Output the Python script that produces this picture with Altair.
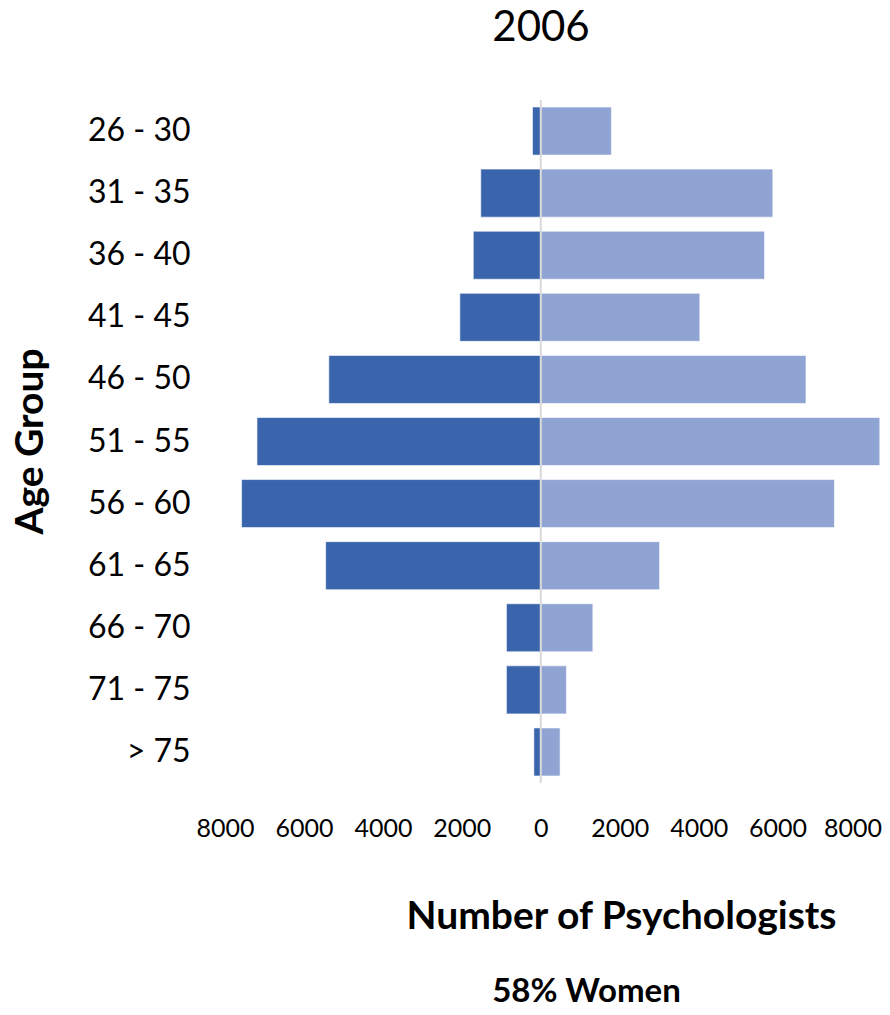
import altair as alt
import pandas as pd

# ---- data ----
age_groups = ["26 - 30", "31 - 35", "36 - 40", "41 - 45", "46 - 50", "51 - 55",
              "56 - 60", "61 - 65", "66 - 70", "71 - 75", "> 75"]
men = [210, 1520, 1710, 2050, 5370, 7190, 7580, 5450, 870, 870, 175]
women = [1790, 5880, 5670, 4030, 6720, 8590, 7440, 3010, 1320, 650, 490]
tick_values = [-8000, -6000, -4000, -2000, 0, 2000, 4000, 6000, 8000]
sexes = ["Men", "Women"]
colors = ["#3a64ac", "#90a4d4"]
title_text = "2006"
x_title = "Number of Psychologists"
y_title = "Age Group"
note_text = ["58% Women"]

rows = []
for g, m, w in zip(age_groups, men, women):
    rows.append({"age": g, "sex": "Men", "value": -m})
    rows.append({"age": g, "sex": "Women", "value": w})
df = pd.DataFrame(rows)

FONT = "Lato"

bars = alt.Chart(df).mark_bar(stroke="white", strokeWidth=1, strokeOpacity=0.6).encode(
    y=alt.Y(
        "age:N",
        sort=age_groups,
        scale=alt.Scale(paddingInner=0.226, paddingOuter=0.113),
        axis=alt.Axis(
            title=y_title, titleFont=FONT, titleFontSize=39, titleFontWeight="bold",
            titleColor="black", titleAngle=270, titleX=-183, titleY=341,
            titleAlign="center", titleBaseline="alphabetic",
            labelFont=FONT, labelFontSize=32, labelColor="black", labelPadding=35,
            ticks=False, tickSize=0, domain=False, grid=False,
        ),
    ),
    x=alt.X(
        "value:Q",
        scale=alt.Scale(domain=[-8000, 8620], nice=False),
        axis=alt.Axis(
            values=tick_values, labelExpr="format(abs(datum.value), 'd')",
            title=x_title, titleFont=FONT, titleFontSize=39, titleFontWeight="bold",
            titleColor="black", titleX=396, titleY=145, titleAlign="center",
            titleBaseline="alphabetic",
            labelFont=FONT, labelFontSize=25, labelColor="black", labelPadding=33,
            labelOffset={"condition": {"test": "datum.value == 8000", "value": -4}, "value": 0},
            ticks=False, tickSize=0, domain=False, grid=False,
            labelOverlap=False, labelFlush=False,
        ),
    ),
    color=alt.Color("sex:N", scale=alt.Scale(domain=sexes, range=colors), legend=None),
)

zero_rule = alt.Chart(pd.DataFrame({"v": [0]})).mark_rule(
    color="#d9d9d9", strokeWidth=2
).encode(x="v:Q")

note = alt.Chart(pd.DataFrame({"t": note_text})).mark_text(
    font=FONT, fontSize=33, fontWeight="bold", color="black",
    align="center", baseline="alphabetic",
).encode(text="t:N", x=alt.value(361.5), y=alt.value(902))

chart = alt.layer(bars, zero_rule, note).properties(
    width=656,
    height=683,
    title=alt.TitleParams(
        title_text, font=FONT, fontSize=42, fontWeight="normal", color="black",
        anchor="middle", frame="group", dx=-12, offset=49,
    ),
    padding={"left": 217, "top": 92, "right": 1, "bottom": 220},
    autosize=alt.AutoSizeParams(type="none"),
).configure_view(stroke=None)

chart.save("out.html", embed_options={"renderer": "svg", "actions": False})
